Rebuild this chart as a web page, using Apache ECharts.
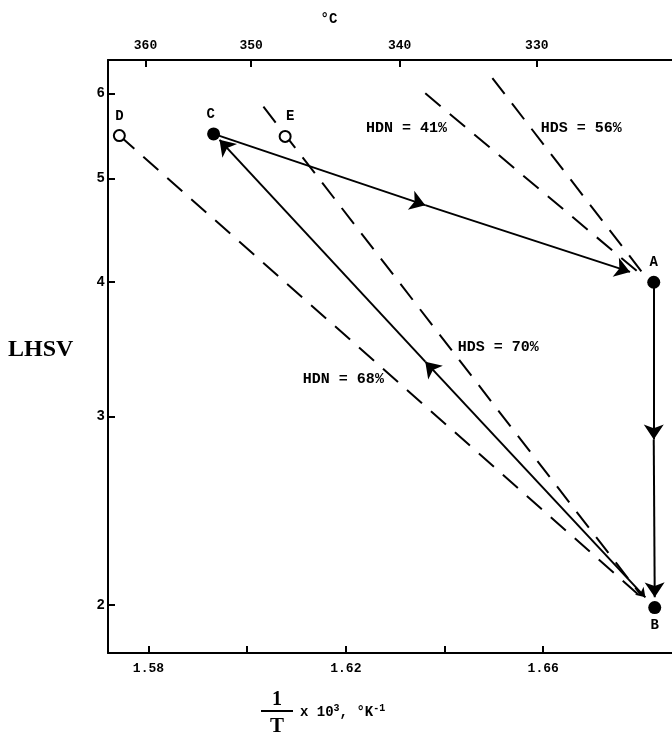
<!DOCTYPE html>
<html><head><meta charset="utf-8">
<script src="https://cdn.jsdelivr.net/npm/echarts@6/dist/echarts.min.js"></script>
<style>html,body{margin:0;padding:0;background:#fff}#c{width:672px;height:748px}</style>
</head><body><div id="c"></div>
<script>
// ---- data ----
const pointNames = ['A', 'B', 'C', 'D', 'E'];
const pointX = [1.6824, 1.6826, 1.5932, 1.5741, 1.6077];
const pointY = [4.00, 1.99, 5.50, 5.48, 5.47];
const pointFilled = [true, true, true, false, false];

// solid operating paths (start, mid-arrow, end-arrow)
const pathCA = [[1.5932, 5.50], [1.6361, 4.72], [1.6776, 4.09]];
const pathAB = [[1.6824, 3.95], [1.6824, 2.854], [1.6826, 2.034]];
const pathBC = [[1.6807, 2.034], [1.6361, 3.373], [1.5944, 5.43]];

// dashed iso-conversion lines
const lineHDN68 = [[1.5741, 5.48], [1.6796, 2.04]];
const lineHDS70 = [[1.6033, 5.83], [1.6796, 2.05]];
const lineHDN41 = [[1.6361, 6.00], [1.6803, 4.05]];
const lineHDS56 = [[1.6497, 6.20], [1.6807, 4.05]];

const noteTexts = ['HDN = 41%', 'HDS = 56%', 'HDS = 70%', 'HDN = 68%'];
const noteX = [1.6323, 1.6677, 1.6509, 1.6195];
const noteY = [5.57, 5.57, 3.476, 3.246];

const xTicks = [1.58, 1.60, 1.62, 1.64, 1.66];
const xLabels = [1.58, 1.62, 1.66];
const yTicks = [2, 3, 4, 5, 6];
const topTickLabels = [360, 350, 340, 330];
const topTickPos = [1.5794, 1.6008, 1.6309, 1.6587];

// ---- chart ----
const MONO = 'Liberation Mono';
const black = '#000';
const chart = echarts.init(document.getElementById('c'), null, {renderer: 'canvas'});

const dashStyle = {color: black, width: 2, type: [20, 12], opacity: 1};
function dashSeries(pts) {
  return {type: 'line', data: pts, symbol: 'none', silent: true, z: 2,
          lineStyle: dashStyle, animation: false};
}
const endArrowSegs = [
  {coords: [pathCA[0], pathCA[1]]}, {coords: [pathCA[1], pathCA[2]]},
  {coords: [pathAB[0], pathAB[1]]}, {coords: [pathAB[1], pathAB[2]]},
  {coords: [pathBC[1], pathBC[2]]}
];
const bothArrowSegs = [{coords: [pathBC[0], pathBC[1]]}];

const pointData = pointNames.map((n, i) => ({
  name: n,
  value: [pointX[i], pointY[i]],
  symbolSize: pointFilled[i] ? 13 : 11,
  itemStyle: pointFilled[i] ? {color: black, opacity: 1} : {color: '#fff', borderColor: black, borderWidth: 2, opacity: 1},
  label: {
    show: true, formatter: n,
    position: n === 'B' ? 'bottom' : 'top',
    distance: n === 'B' ? 4 : 6,
    offset: n === 'C' ? [-3, 0] : (n === 'E' ? [5, 0] : [0, 0]),
    fontFamily: MONO, fontWeight: 'bold', fontSize: 14, color: black
  }
}));
const noteData = noteTexts.map((t, i) => ({name: t, value: [noteX[i], noteY[i]]}));

const xAxisCommon = {
  type: 'value', min: 1.5718, max: 1.6861, splitLine: {show: false},
  axisLine: {show: true, lineStyle: {color: black, width: 2}}
};

chart.setOption({
  animation: false,
  backgroundColor: '#fff',
  grid: {left: 108, right: 0, top: 60, bottom: 95, containLabel: false, outerBoundsMode: 'none'},
  xAxis: [
    Object.assign({}, xAxisCommon, {
      position: 'bottom',
      axisTick: {show: true, inside: true, length: 7, customValues: xTicks, lineStyle: {color: black, width: 2}},
      axisLabel: {customValues: xLabels, formatter: v => v.toFixed(2), margin: 9,
                  fontFamily: MONO, fontWeight: 'bold', fontSize: 13, color: black}
    }),
    Object.assign({}, xAxisCommon, {
      position: 'top',
      axisTick: {show: true, inside: true, length: 7, customValues: topTickPos, lineStyle: {color: black, width: 2}},
      axisLabel: {customValues: topTickPos, margin: 8, fontFamily: MONO, fontWeight: 'bold', fontSize: 13, color: black,
                  formatter: v => {
                    const i = topTickPos.findIndex(p => Math.abs(p - v) < 1e-6);
                    return i >= 0 ? String(topTickLabels[i]) : '';
                  }}
    })
  ],
  yAxis: {
    type: 'log', logBase: 10, min: 1.805, max: 6.445,
    splitLine: {show: false}, minorTick: {show: false},
    axisLine: {show: true, lineStyle: {color: black, width: 2}},
    axisTick: {show: true, inside: true, length: 7, customValues: yTicks, lineStyle: {color: black, width: 2}},
    axisLabel: {customValues: yTicks, margin: 3, fontFamily: MONO, fontWeight: 'bold', fontSize: 14, color: black,
                formatter: v => String(Math.round(v))}
  },
  series: [
    dashSeries(lineHDN68), dashSeries(lineHDS70), dashSeries(lineHDN41), dashSeries(lineHDS56),
    {type: 'lines', coordinateSystem: 'cartesian2d', data: endArrowSegs, z: 3,
     symbol: ['none', 'arrow'], symbolSize: [9, 15],
     lineStyle: {color: black, width: 2, opacity: 1, curveness: 0}},
    {type: 'lines', coordinateSystem: 'cartesian2d', data: bothArrowSegs, z: 3,
     symbol: ['arrow', 'arrow'], symbolSize: [9, 15],
     lineStyle: {color: black, width: 2, opacity: 1, curveness: 0}},
    {type: 'scatter', data: pointData, z: 5},
    {type: 'scatter', data: noteData, symbolSize: 0, z: 4, silent: true,
     itemStyle: {opacity: 1, color: black},
     label: {show: true, position: 'inside', formatter: p => p.name, opacity: 1,
             fontFamily: MONO, fontWeight: 'bold', fontSize: 15, color: black}}
  ],
  graphic: [
    {type: 'text', left: 8, top: 338,
     style: {text: 'LHSV', font: 'bold 24px "Liberation Serif"', fill: black}},
    {type: 'text', x: 329, y: 19,
     style: {text: '°C', font: 'bold 14px "Liberation Mono"', fill: black, align: 'center', verticalAlign: 'middle'}},
    {type: 'text', x: 277, y: 700,
     style: {text: '1', font: 'bold 20px "Liberation Serif"', fill: black, align: 'center', verticalAlign: 'middle'}},
    {type: 'line', shape: {x1: 261, y1: 711, x2: 293, y2: 711}, style: {stroke: black, lineWidth: 2}},
    {type: 'text', x: 277, y: 727,
     style: {text: 'T', font: 'bold 21px "Liberation Serif"', fill: black, align: 'center', verticalAlign: 'middle'}},
    {type: 'text', x: 300, y: 712,
     style: {text: 'x 10{s|3}, °K{s|-1}', font: 'bold 14px "Liberation Mono"', fill: black,
             align: 'left', verticalAlign: 'middle',
             rich: {s: {fontSize: 10, fontWeight: 'bold', fontFamily: MONO, verticalAlign: 'top', padding: [0, 0, 8, 0]}}}}
  ]
});
</script></body></html>
